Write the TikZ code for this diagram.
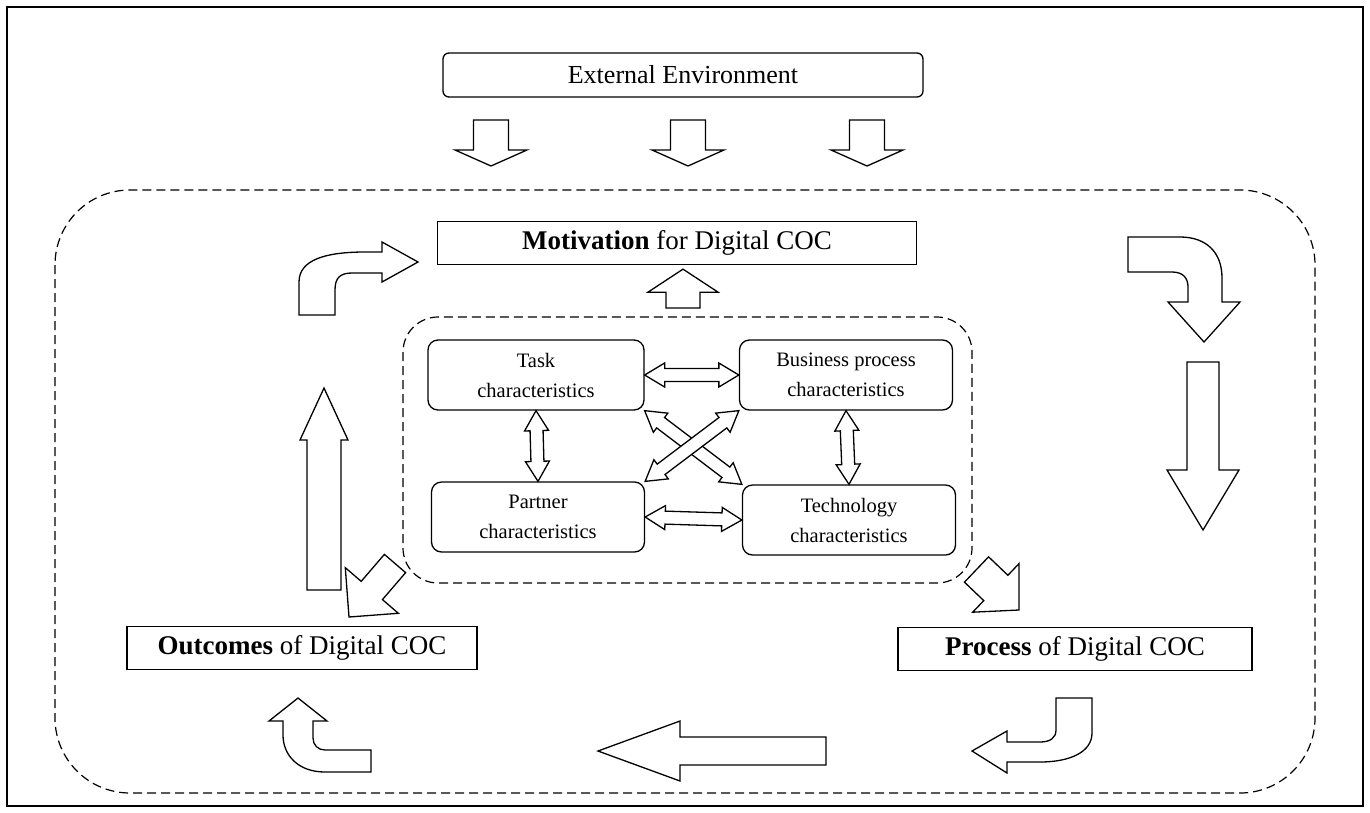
\documentclass[tikz,border=0pt]{standalone}
\usepackage{fontspec}
\setmainfont{Liberation Serif}
\usetikzlibrary{calc}
% single block arrow: start, tip, shaft half width, head half width, head length
\newcommand{\blockarr}[5]{%
\draw[arr]($(#1)!#3!90:(#2)$)--($(#1)!#3!-90:(#2)$)--($(#2)!#5!(#1)!#3!90:(#1)$)--($(#2)!#5!(#1)!#4!90:(#1)$)--(#2)
--($(#2)!#5!(#1)!#4!-90:(#1)$)--($(#2)!#5!(#1)!#3!-90:(#1)$)--cycle;}
% double block arrow between two anchors
\newcommand{\dblarr}[2]{%
\draw[arr](#1)--($(#1)!20pt!(#2)!12pt!90:(#2)$)--($(#1)!20pt!(#2)!6.5pt!90:(#2)$)--($(#2)!20pt!(#1)!6.5pt!-90:(#1)$)--($(#2)!20pt!(#1)!12pt!-90:(#1)$)--(#2)
--($(#2)!20pt!(#1)!12pt!90:(#1)$)--($(#2)!20pt!(#1)!6.5pt!90:(#1)$)--($(#1)!20pt!(#2)!6.5pt!-90:(#2)$)--($(#1)!20pt!(#2)!12pt!-90:(#2)$)--cycle;}
\begin{document}
\begin{tikzpicture}[x=1pt,y=-1pt,line join=miter,
box/.style={draw,line width=1.3pt,minimum height=43pt,inner sep=0pt,font=\fontsize{27}{32}\selectfont},
rbox/.style={box,rounded corners=6pt,font=\fontsize{26}{31}\selectfont},
cbox/.style={draw,line width=1.3pt,rounded corners=10pt,minimum width=213pt,minimum height=70pt,inner sep=0pt,align=center,font=\fontsize{20.5}{30}\selectfont},
arr/.style={line width=1.3pt,fill=white},
dashbox/.style={line width=1.2pt,dash pattern=on 9pt off 5pt}]
\useasboundingbox(0,0)rectangle(1370,812);
\draw[line width=2.5pt](7,7)rectangle(1363,806);
\draw[dashbox,rounded corners=75pt](55,190)rectangle(1315,793);
\draw[dashbox,rounded corners=35pt](403,317)rectangle(972,583);
%%% outer boxes
\node[rbox,minimum width=480pt,minimum height=44pt](ext)at(683,75){External Environment};
\node[box,minimum width=479pt](motiv)at(677,243){\textbf{Motivation} for Digital COC};
\node[box,minimum width=350pt](outc)at(302,648){\textbf{Outcomes} of Digital COC};
\node[box,minimum width=354pt](proc)at(1075,649){\textbf{Process} of Digital COC};
%%% characteristics
\node[cbox,minimum width=216pt](task)at(536,375){Task\\characteristics};
\node[cbox](bp)at(846,375){Business process\\characteristics};
\node[cbox](partner)at(538,517){Partner\\characteristics};
\node[cbox](tech)at(849,520){Technology\\characteristics};
\dblarr{task.east}{bp.west}
\dblarr{partner.east}{tech.west}
\dblarr{task.south}{partner.north}
\dblarr{bp.south}{tech.north}
\dblarr{task.south east}{tech.north west}
\dblarr{bp.south west}{partner.north east}
%%% straight block arrows
\coordinate(e1)at(491,120);\coordinate(e1t)at(491,166);
\coordinate(e2)at(688,120);\coordinate(e2t)at(688,166);
\coordinate(e3)at(867,120);\coordinate(e3t)at(867,166);
\blockarr{e1}{e1t}{17.5pt}{36pt}{16pt}
\blockarr{e2}{e2t}{17.5pt}{36pt}{16pt}
\blockarr{e3}{e3t}{17.5pt}{36pt}{16pt}
\coordinate(c0)at(683,308);\coordinate(c0t)at($(motiv.south)+(6,4)$);
\blockarr{c0}{c0t}{17pt}{35pt}{23pt}
\coordinate(l0)at(324,590);\coordinate(l0t)at(324,388);
\blockarr{l0}{l0t}{17pt}{24pt}{52pt}
\coordinate(r0)at(1203,362);\coordinate(r0t)at(1203,530);
\blockarr{r0}{r0t}{16pt}{36pt}{60pt}
\coordinate(b0)at(826,751);\coordinate(b0t)at(598,751);
\blockarr{b0}{b0t}{14pt}{30pt}{82pt}
\coordinate(d1)at(395,563.5);\coordinate(d1t)at(349,617);
\blockarr{d1}{d1t}{14pt}{35pt}{35pt}
\coordinate(d2)at(976.5,569.5);\coordinate(d2t)at(1019,610);
\blockarr{d2}{d2t}{17.5pt}{33.5pt}{32pt}
%%% bent arrows
\draw[arr](299,315)--(299,282)..controls(299,260)and(325,252)..(365,252)--(382,252)--(382,242)--(418,262)--(382,282)--(382,273)--(352,273)..controls(340,273)and(335,278)..(335,290)--(335,315)--cycle;
\draw[arr](1128,237)--(1180,237)..controls(1206,237)and(1222,252)..(1222,278)--(1222,302)--(1240,302)--(1204,342)--(1168,302)--(1188,302)--(1188,287)..controls(1188,278)and(1183,272)..(1172,272)--(1128,272)--cycle;
\draw[arr](1056,698)--(1092,698)--(1092,733)..controls(1092,752)and(1070,762)..(1040,762)--(1007,762)--(1007,773)--(972,751)--(1007,731)--(1007,742)--(1040,742)..controls(1050,742)and(1056,738)..(1056,730)--cycle;
\draw[arr](371,750)--(371,772)--(325,772)..controls(298,772)and(283,755)..(283,735)--(283,721)--(269,721)--(298,698)--(327,721)--(313,721)--(313,738)..controls(313,745)and(318,750)..(325,750)--cycle;
\end{tikzpicture}
\end{document}
